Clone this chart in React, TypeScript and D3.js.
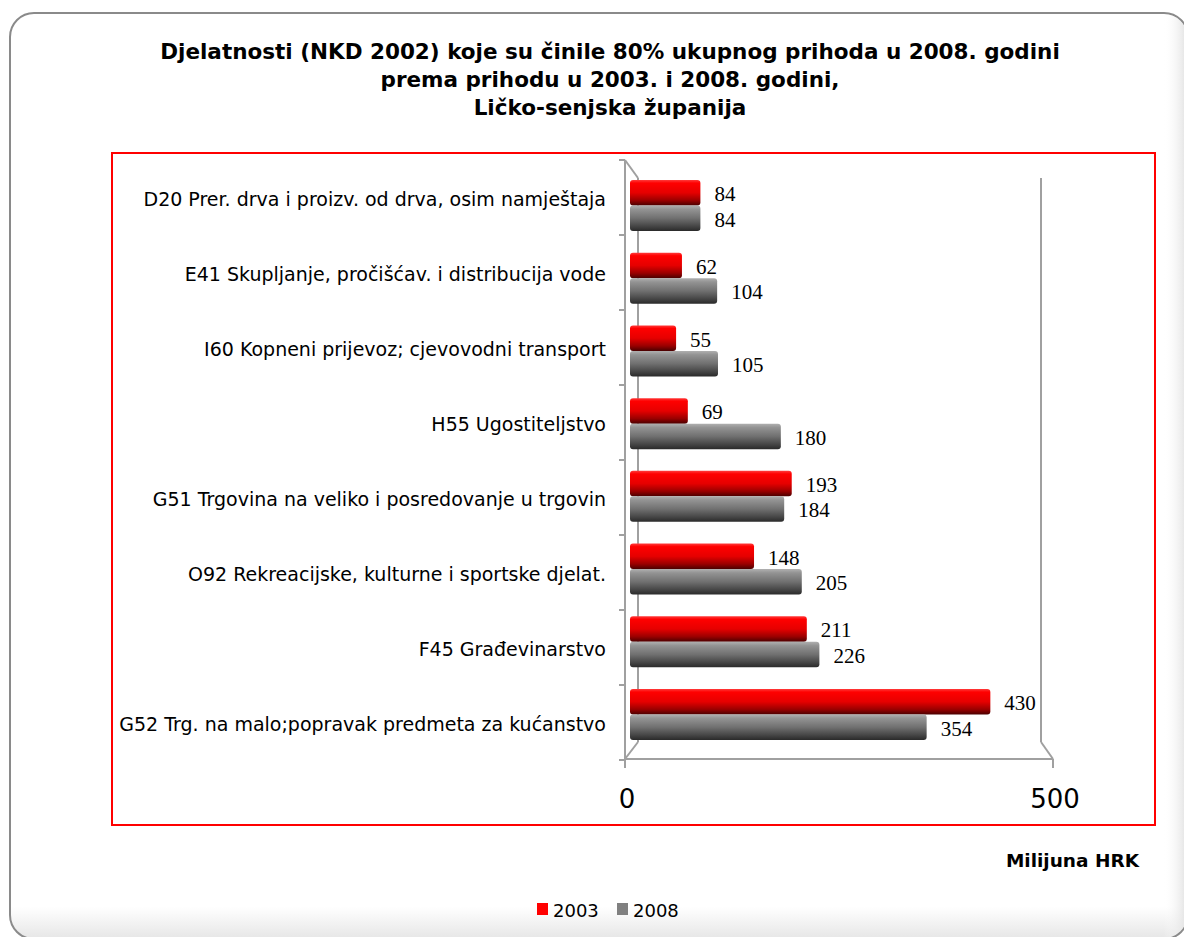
import React from "react";
import * as d3 from "d3";

const categories = [
  "D20 Prer. drva i proizv. od drva, osim namještaja",
  "E41 Skupljanje, pročišćav. i distribucija vode",
  "I60 Kopneni prijevoz; cjevovodni transport",
  "H55 Ugostiteljstvo",
  "G51  Trgovina na veliko i posredovanje u trgovin",
  "O92 Rekreacijske, kulturne i sportske djelat.",
  "F45 Građevinarstvo",
  "G52 Trg. na malo;popravak predmeta za kućanstvo",
];
const values2003 = [84, 62, 55, 69, 193, 148, 211, 430];
const values2008 = [84, 104, 105, 180, 184, 205, 226, 354];
const seriesNames = ["2003", "2008"];
const xTicks = [0, 500];
const titleLines = [
  "Djelatnosti (NKD 2002) koje su činile 80% ukupnog prihoda u 2008. godini",
  "prema prihodu u 2003. i 2008. godini,",
  "Ličko-senjska županija",
];
const axisTitle = "Milijuna HRK";

const W = 1184;
const H = 937;

export default function App() {
  const n = categories.length;
  const xBar = d3.scaleLinear().domain([0, 500]).range([630, 1049]);
  const xFront = d3.scaleLinear().domain([0, 500]).range([625, 1053]);
  const xBack = d3.scaleLinear().domain([0, 500]).range([638, 1041]);
  const barTop = d3.scaleLinear().domain([0, n - 1]).range([180, 689]);
  const yBand = d3.scaleLinear().domain([0, n]).range([160, 760]);
  const barH = 25.5;
  const frontTop = 160, frontBottom = 759, backTop = 178, backBottom = 742;
  const axisColor = "#a0a0a0";
  const series = [
    { name: seriesNames[0], values: values2003, grad: "url(#gRed)", sw: "#ff0000" },
    { name: seriesNames[1], values: values2008, grad: "url(#gGray)", sw: "#808080" },
  ];
  const sansFont = "'DejaVu Sans', Verdana, sans-serif";
  const serifFont = "'Liberation Serif', 'Times New Roman', serif";

  return (
    <svg width={W} height={H} style={{ position: "absolute", left: 0, top: 0, background: "#fff" }}>
      <defs>
        <linearGradient id="gRed" x1="0" y1="0" x2="0" y2="1">
          <stop offset="0%" stopColor="#ff3a3a" />
          <stop offset="12%" stopColor="#ff0000" />
          <stop offset="50%" stopColor="#e60000" />
          <stop offset="80%" stopColor="#9a0000" />
          <stop offset="100%" stopColor="#4a0000" />
        </linearGradient>
        <linearGradient id="gGray" x1="0" y1="0" x2="0" y2="1">
          <stop offset="0%" stopColor="#b0b0b0" />
          <stop offset="15%" stopColor="#939393" />
          <stop offset="50%" stopColor="#707070" />
          <stop offset="80%" stopColor="#474747" />
          <stop offset="100%" stopColor="#2a2a2a" />
        </linearGradient>
        <linearGradient id="gShadeV" x1="0" y1="0" x2="0" y2="1">
          <stop offset="96.5%" stopColor="#ffffff" />
          <stop offset="100%" stopColor="#e6e6e6" />
        </linearGradient>
        <linearGradient id="gShadeH" x1="0" y1="0" x2="1" y2="0">
          <stop offset="98%" stopColor="#ffffff" stopOpacity="0" />
          <stop offset="100%" stopColor="#e0e0e0" stopOpacity="1" />
        </linearGradient>
      </defs>

      {/* outer rounded frame */}
      <rect x={10} y={13} width={1178} height={926} rx={24} fill="url(#gShadeV)" stroke="#8a8a8a" strokeWidth={2} />
      <rect x={11} y={14} width={1176} height={924} rx={23} fill="url(#gShadeH)" />

      {/* title */}
      <g fontFamily={sansFont} fontWeight="bold" fontSize={21.5} fill="#000" textAnchor="middle">
        {titleLines.map((t, i) => (
          <text key={i} x={610} y={59 + i * 28}>{t}</text>
        ))}
      </g>

      {/* red plot frame */}
      <rect x={112} y={153} width={1043} height={672} fill="none" stroke="#ff0000" strokeWidth={2} />

      {/* 3D walls */}
      <g stroke={axisColor} strokeWidth={2} fill="none">
        <line x1={xFront(0)} y1={frontTop} x2={xFront(0)} y2={frontBottom} />
        <line x1={xFront(0)} y1={frontTop} x2={xBack(0)} y2={backTop} />
        <line x1={xBack(0)} y1={backTop} x2={xBack(0)} y2={backBottom} />
        <line x1={xBack(0)} y1={backBottom} x2={xFront(0)} y2={frontBottom} />
        <line x1={xFront(0)} y1={frontBottom} x2={xFront(500)} y2={frontBottom} />
        <line x1={xBack(500)} y1={backTop} x2={xBack(500)} y2={backBottom} />
        <line x1={xBack(500)} y1={backBottom} x2={xFront(500)} y2={frontBottom} />
        {d3.range(n + 1).map((i) => (
          <line key={"t" + i} x1={xFront(0) - 6} y1={yBand(i)} x2={xFront(0)} y2={yBand(i)} />
        ))}
        {xTicks.map((t) => (
          <line key={"x" + t} x1={xFront(t)} y1={frontBottom} x2={xFront(t)} y2={frontBottom + 9} />
        ))}
      </g>

      {/* bars */}
      {series.map((s, si) => (
        <g key={s.name}>
          {s.values.map((v, i) => {
            const y = barTop(i) + si * barH;
            return (
              <g key={i}>
                <rect x={xBar(0)} y={y} width={xBar(v) - xBar(0)} height={barH} rx={3} fill={s.grad} />
                <text x={xBar(v) + 14} y={y + barH / 2 + 1} dy="0.35em" fontFamily={serifFont} fontSize={21} fill="#000">
                  {v}
                </text>
              </g>
            );
          })}
        </g>
      ))}

      {/* category labels */}
      <g fontFamily={sansFont} fontSize={19} fill="#000">
        {categories.map((c, i) => (
          <text key={i} x={606} y={(yBand(i) + yBand(i + 1)) / 2 + 2} dy="0.36em" textAnchor="end">{c}</text>
        ))}
      </g>

      {/* x tick labels */}
      <g fontFamily={sansFont} fontSize={26} fill="#000" textAnchor="middle">
        {xTicks.map((t) => (
          <text key={t} x={xFront(t) + 2} y={808}>{t}</text>
        ))}
      </g>

      {/* axis title */}
      <text x={1139} y={867} textAnchor="end" fontFamily={sansFont} fontWeight="bold" fontSize={18.5} fill="#000">
        {axisTitle}
      </text>

      {/* legend */}
      <g fontFamily={sansFont} fontSize={18} fill="#000">
        {series.map((s, i) => (
          <g key={s.name} transform={`translate(${537 + i * 80},903)`}>
            <rect x={0} y={0} width={11} height={12} fill={s.sw} />
            <text x={16} y={14}>{s.name}</text>
          </g>
        ))}
      </g>
    </svg>
  );
}
